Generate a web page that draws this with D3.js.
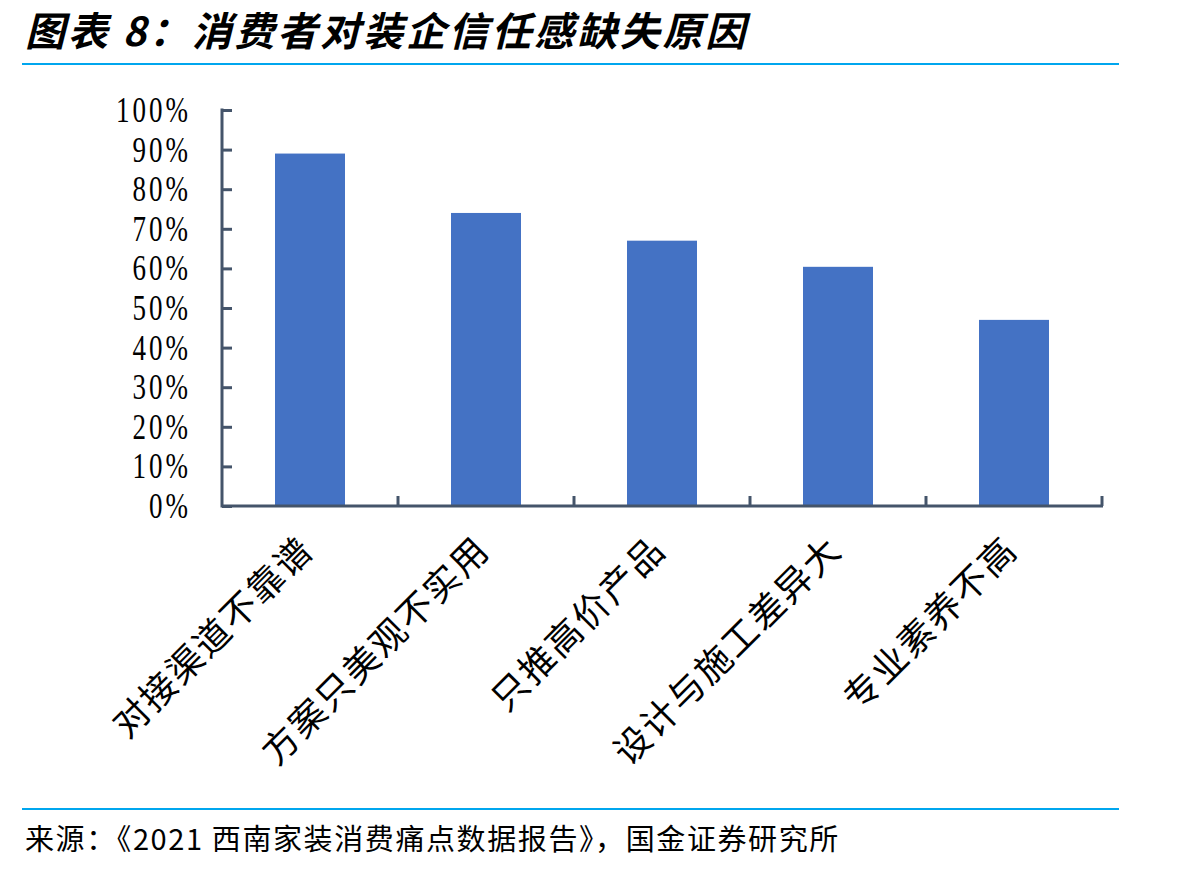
<!DOCTYPE html>
<html><head><meta charset="utf-8">
<script src="https://cdn.jsdelivr.net/npm/d3@7"></script>
<style>
body{margin:0;background:#fff;}
svg{display:block;}
</style></head>
<body>
<script>
const titleText = "图表 8：消费者对装企信任感缺失原因";
const sourceText = "来源：《2021 西南家装消费痛点数据报告》，国金证券研究所";
const categories = ["对接渠道不靠谱","方案只美观不实用","只推高价产品","设计与施工差异大","专业素养不高"];
const values = [0.89, 0.74, 0.67, 0.604, 0.47];
const yTicks = [0,0.1,0.2,0.3,0.4,0.5,0.6,0.7,0.8,0.9,1.0];

const W=1203,H=871;
const svg=d3.select("body").append("svg").attr("width",W).attr("height",H);

svg.append("text").attr("x",25).attr("y",46)
  .attr("font-family","'Noto Sans CJK SC'").attr("font-weight","bold").attr("font-style","italic")
  .attr("font-size",40).attr("letter-spacing",2.8).attr("fill","#000")
  .text(titleText);

svg.append("line").attr("x1",22).attr("x2",1119).attr("y1",64).attr("y2",64).attr("stroke","#00A6EE").attr("stroke-width",2);
svg.append("line").attr("x1",22).attr("x2",1119).attr("y1",809).attr("y2",809).attr("stroke","#00A6EE").attr("stroke-width",2);

svg.append("text").attr("x",25).attr("y",850)
  .attr("font-family","'Noto Sans CJK SC'").attr("font-size",29).attr("letter-spacing",1.6).attr("fill","#000")
  .text(sourceText);

const x0=222,x1=1102,yTop=110,yBot=506;
const x=d3.scaleBand().domain(categories).range([x0,x1]).paddingInner(0).paddingOuter(0);
const y=d3.scaleLinear().domain([0,1]).range([yBot,yTop]);
const axisColor="#44546A";
const bw=70;

svg.selectAll("rect.bar").data(values).join("rect").attr("class","bar")
  .attr("x",(d,i)=>x(categories[i])+x.bandwidth()/2-bw/2)
  .attr("width",bw)
  .attr("y",d=>y(d)).attr("height",d=>yBot-y(d))
  .attr("fill","#4472C4");

// y axis
const ya=svg.append("g").attr("transform",`translate(${x0},0)`)
  .call(d3.axisRight(y).tickValues(yTicks).tickSize(10).tickFormat(""));
ya.select(".domain").remove();
ya.selectAll(".tick line").attr("stroke",axisColor).attr("stroke-width",3);
svg.append("line").attr("x1",x0).attr("x2",x0).attr("y1",yTop-1.5).attr("y2",yBot+1.5).attr("stroke",axisColor).attr("stroke-width",3);

svg.selectAll("text.ytl").data(yTicks).join("text").attr("class","ytl")
  .attr("transform",d=>`translate(191,${y(d)+12}) scale(0.75,1)`)
  .attr("text-anchor","end")
  .attr("font-family","'Liberation Serif'").attr("font-size",36).attr("letter-spacing",4)
  .attr("fill","#000")
  .text(d=>Math.round(d*100)+"%");

// x axis
svg.append("line").attr("x1",x0).attr("x2",x1+1).attr("y1",yBot).attr("y2",yBot).attr("stroke",axisColor).attr("stroke-width",3);
const bounds=categories.map(c=>x(c)+x.bandwidth());
svg.selectAll("line.xt").data(bounds).join("line").attr("class","xt")
  .attr("x1",d=>d).attr("x2",d=>d).attr("y1",yBot).attr("y2",yBot-10)
  .attr("stroke",axisColor).attr("stroke-width",3);

svg.selectAll("text.xl").data(categories).join("text").attr("class","xl")
  .attr("transform",d=>`translate(${x(d)+x.bandwidth()/2+6},${yBot+46}) rotate(-45)`)
  .attr("text-anchor","end")
  .attr("font-family","'Noto Sans CJK SC'").attr("font-size",36).attr("letter-spacing",2).attr("fill","#000")
  .text(d=>d);
</script>
</body></html>
